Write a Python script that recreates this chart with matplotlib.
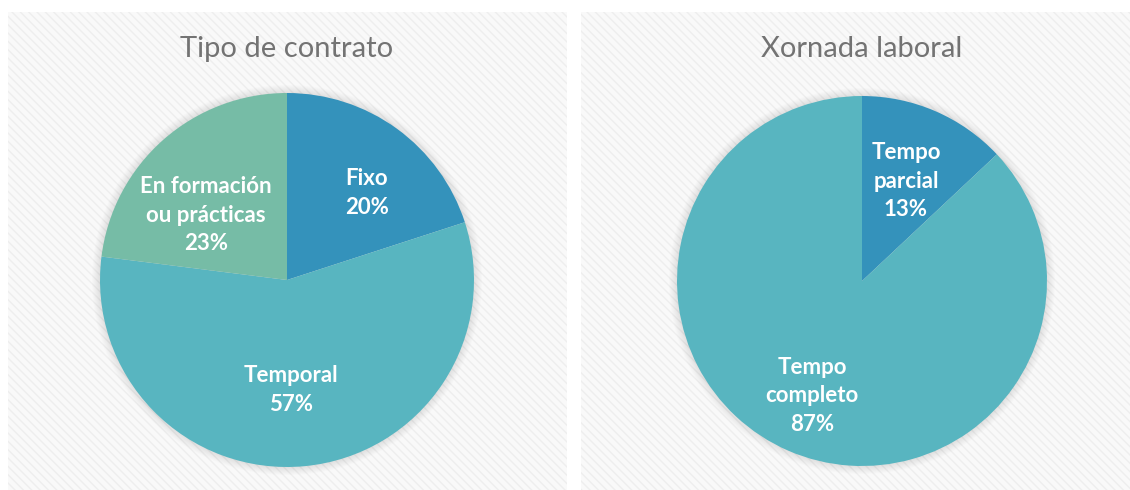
import matplotlib
matplotlib.use("Agg")
import matplotlib.pyplot as plt
from matplotlib.patches import Rectangle, Circle

# Data
titles = ["Tipo de contrato", "Xornada laboral"]
contract_labels = ["Fixo", "Temporal", "En formación\nou prácticas"]
contract_values = [20, 57, 23]
hours_labels = ["Tempo\nparcial", "Tempo\ncompleto"]
hours_values = [13, 87]

colors_contract = ["#3492bb", "#58b5c0", "#76bca6"]
colors_hours = ["#3492bb", "#58b5c0"]

W, H = 1130, 490
fig = plt.figure(figsize=(W / 100, H / 100), dpi=100)
ax = fig.add_axes([0, 0, 1, 1])
ax.set_xlim(0, W)
ax.set_ylim(0, H)
ax.set_aspect("equal")
ax.axis("off")

def py(y):
    return H - y

# Panels
for x0, x1 in [(8, 567), (581, 1130)]:
    ax.add_patch(Rectangle((x0, 0), x1 - x0, py(12), facecolor="#f9f9f9",
                           edgecolor="#eeeeee", hatch="\\\\\\\\", lw=0, zorder=0))

font = "Lato"

def draw(cx, cy, r, values, labels, colors, title, label_pos):
    # soft shadow
    for i in range(8):
        ax.add_patch(Circle((cx, py(cy)), r + 8 - i, facecolor="#000000",
                            alpha=0.012, lw=0, zorder=1))
    wedges, _ = ax.pie(values, colors=colors, startangle=90, counterclock=False,
                       center=(cx, py(cy)), radius=r, frame=True,
                       wedgeprops=dict(linewidth=0))
    for w in wedges:
        w.set_zorder(2)
    ax.set_xlim(0, W)
    ax.set_ylim(0, H)
    ax.axis("off")
    for lab, val, (lx, ly) in zip(labels, values, label_pos):
        ax.text(lx, py(ly), f"{lab}\n{val}%", ha="center", va="center",
                color="white", fontsize=16, fontweight="bold", family=font,
                linespacing=1.42, zorder=3)
    ax.text(cx, py(49), title, ha="center", va="center", color="#737373",
            fontsize=21, family=font, zorder=3)

draw(287, 280, 187, contract_values, contract_labels, colors_contract,
     titles[0], [(367, 193), (291, 390), (206, 215)])
draw(862, 281, 185, hours_values, hours_labels, colors_hours,
     titles[1], [(906, 181), (812, 396)])

fig.savefig("out.png", dpi=100)
